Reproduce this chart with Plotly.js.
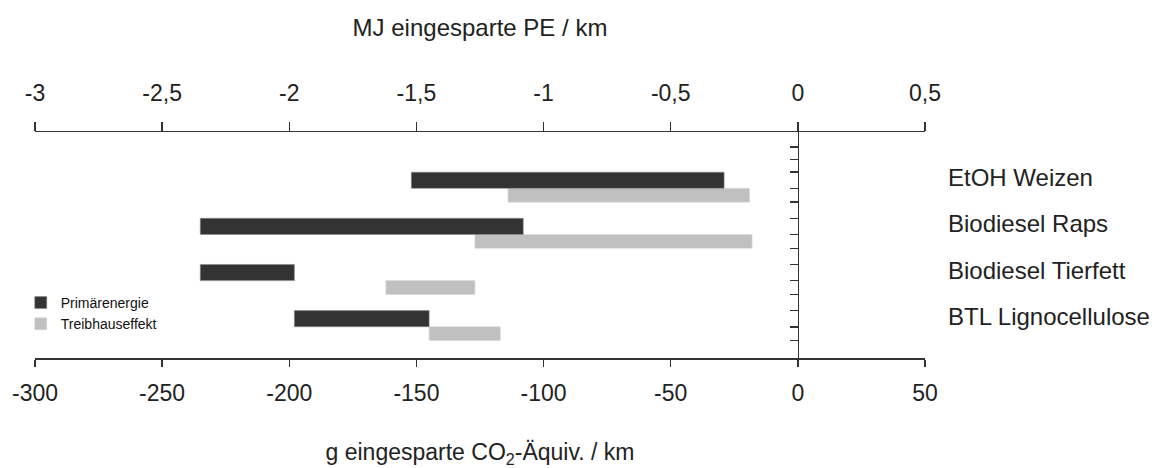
<!DOCTYPE html>
<html>
<head>
<meta charset="utf-8">
<script src="https://cdn.plot.ly/plotly-3.0.1.min.js"></script>
<style>html,body{margin:0;padding:0;background:#fff;}#chart{width:1160px;height:468px;}</style>
</head>
<body>
<div id="chart"></div>
<script>
// Categories (top to bottom)
const categories = ['EtOH Weizen', 'Biodiesel Raps', 'Biodiesel Tierfett', 'BTL Lignocellulose'];
// Primärenergie: range of saved primary energy, MJ / km (top axis)
const primaerMin = [-1.52, -2.35, -2.35, -1.98];
const primaerMax = [-0.29, -1.08, -1.98, -1.45];
// Treibhauseffekt: range of saved CO2-equivalents, g / km (bottom axis)
const thgMin = [-114, -127, -162, -145];
const thgMax = [-19, -18, -127, -117];
// Tick values and labels
const topTicks = [-3, -2.5, -2, -1.5, -1, -0.5, 0, 0.5];
const topTickLabels = ['-3', '-2,5', '-2', '-1,5', '-1', '-0,5', '0', '0,5'];
const bottomTicks = [-300, -250, -200, -150, -100, -50, 0, 50];
const bottomTickLabels = ['-300', '-250', '-200', '-150', '-100', '-50', '0', '50'];

const idx = categories.map((c, i) => i);
const darkW = 0.35, lightW = 0.3;
const DARK = '#333333', LIGHT = '#c0c0c0', AX = '#333333';

const traces = [
  {
    type: 'bar', orientation: 'h', name: 'Primärenergie',
    y: idx, base: primaerMin, x: primaerMax.map((v, i) => v - primaerMin[i]),
    xaxis: 'x2', yaxis: 'y', width: darkW, offset: -darkW,
    marker: {color: DARK, line: {color: '#8a8a8a', width: 0.6}},
    hoverinfo: 'skip'
  },
  {
    type: 'bar', orientation: 'h', name: 'Treibhauseffekt',
    y: idx, base: thgMin, x: thgMax.map((v, i) => v - thgMin[i]),
    xaxis: 'x', yaxis: 'y', width: lightW, offset: 0,
    marker: {color: LIGHT, line: {color: '#d8d8d8', width: 0.6}},
    hoverinfo: 'skip'
  }
];

// minor ticks on the zero line at the bar edges plus two above
const yTicks = [-0.9, -0.62];
idx.forEach(i => { yTicks.push(i - darkW, i, i + lightW); });

const annotations = categories.map((c, i) => ({
  text: c, xref: 'paper', x: 1, xanchor: 'left', xshift: 21,
  yref: 'y', y: i - 0.23, yanchor: 'middle', showarrow: false,
  font: {size: 24, color: '#222'}
}));

const axisCommon = {
  showgrid: false, zeroline: false, showline: true,
  linecolor: AX, linewidth: 1.5, tickcolor: AX, tickwidth: 1.5,
  automargin: false, tickmode: 'array', fixedrange: true
};

const layout = {
  width: 1160, height: 468,
  margin: {l: 35, r: 235, t: 132, b: 110, pad: 0},
  paper_bgcolor: '#ffffff', plot_bgcolor: 'rgba(0,0,0,0)',
  font: {family: 'Liberation Sans, Arial, sans-serif', size: 23, color: '#222'},
  separators: ',.',
  barmode: 'overlay',
  showlegend: true,
  legend: {
    x: -0.016, xanchor: 'left', y: 0.197, yanchor: 'middle',
    font: {size: 14, color: '#111'}, bgcolor: 'rgba(0,0,0,0)',
    itemwidth: 30, traceorder: 'normal', tracegroupgap: 0
  },
  xaxis: Object.assign({}, axisCommon, {
    range: [-300, 50], anchor: 'y', side: 'bottom',
    tickvals: bottomTicks, ticktext: bottomTickLabels,
    ticks: 'outside', ticklen: 7, ticklabelstandoff: 7,
    title: {text: 'g eingesparte CO<sub>2</sub>-Äquiv. / km', standoff: 45, font: {size: 23}}
  }),
  xaxis2: Object.assign({}, axisCommon, {
    range: [-3, 0.5], anchor: 'y', side: 'top', overlaying: 'x',
    tickvals: topTicks, ticktext: topTickLabels,
    ticks: 'outside', ticklen: 9, ticklabelstandoff: 11,
    title: {text: 'MJ eingesparte PE / km', standoff: 37, font: {size: 24}}
  }),
  xaxis3: Object.assign({}, axisCommon, {
    range: [-3, 0.5], anchor: 'y', side: 'top', overlaying: 'x',
    tickvals: topTicks, showticklabels: false, showline: false,
    ticks: 'inside', ticklen: 8
  }),
  yaxis: Object.assign({}, axisCommon, {
    range: [3.677, -1.221], anchor: 'free', position: 300 / 350,
    tickvals: yTicks, showticklabels: false,
    ticks: 'outside', ticklen: 8, tickwidth: 1.5
  }),
  annotations: annotations
};

Plotly.newPlot('chart', traces, layout, {staticPlot: true, displayModeBar: false});
</script>
</body>
</html>
